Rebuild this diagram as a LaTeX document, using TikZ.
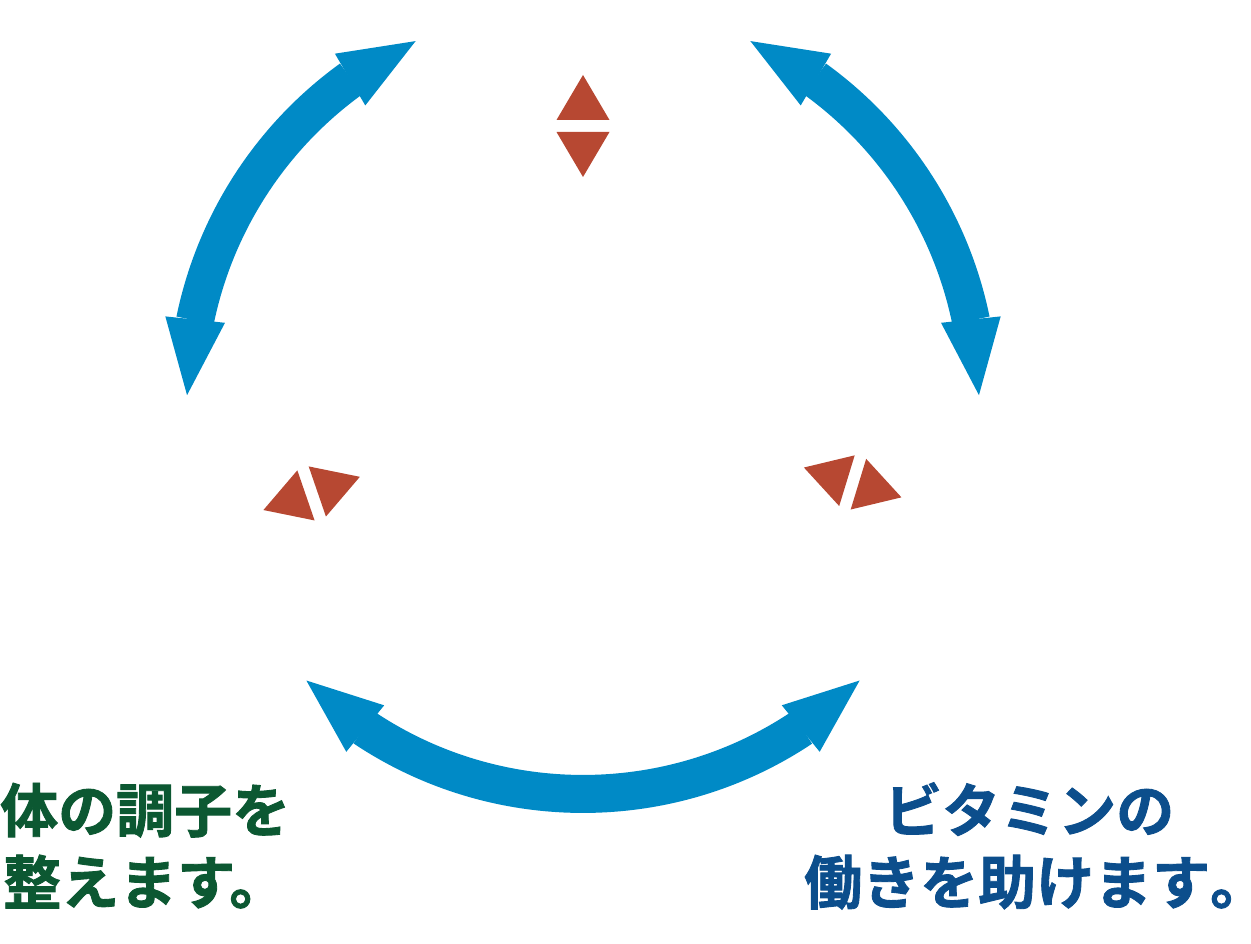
\documentclass[tikz,border=0pt]{standalone}
\usepackage{fontspec}
\newfontfamily\jpfont{Noto Sans CJK JP}[BoldFont={* Bold}, BoldFeatures={FakeBold=1.5}]
\usetikzlibrary{arrows.meta,bending,calc}
\definecolor{arrowblue}{RGB}{0,138,198}
\definecolor{tricol}{RGB}{183,72,50}
\definecolor{txtgreen}{RGB}{12,88,50}
\definecolor{txtblue}{RGB}{12,78,140}
\tikzset{
  bigarrow/.style={draw=arrowblue, line width=38pt,
    {Triangle[width=60pt,length=76pt,line width=0pt,flex]}-{Triangle[width=60pt,length=76pt,line width=0pt,flex]}},
  lbl/.style={font=\jpfont\bfseries\fontsize{58}{60}\selectfont, inner sep=0pt, anchor=base west},
  redtri/.style={fill=tricol}
}
\begin{document}
\begin{tikzpicture}[x=1pt,y=1pt]
\useasboundingbox (0,0) rectangle (1251,944);
\coordinate (C) at (583,544);
% arrows
\coordinate (LA) at ($(C)+(115:396)$);
\coordinate (RA) at ($(C)+(65:396)$);
\coordinate (BA) at ($(C)+(225.4:394)$);
\draw[bigarrow] (LA) arc[start angle=115, end angle=179.3, radius=396];
\draw[bigarrow] (RA) arc[start angle=65, end angle=0.7, radius=396];
\draw[bigarrow] (BA) arc[start angle=225.4, end angle=314.6, radius=394];
% red triangle pairs
\foreach \ang/\d in {90/274, 199/287, -17/282} {
  \begin{scope}[shift={(C)}, rotate=\ang-90]
    \fill[redtri] (-26.5,\d+6) -- (26.5,\d+6) -- (0,\d+51) -- cycle;
    \fill[redtri] (-26.5,\d-6) -- (26.5,\d-6) -- (0,\d-51) -- cycle;
  \end{scope}
}
% texts
\node[lbl, text=txtgreen] (l1) at (0,112) {体の調子を};
\node[lbl, text=txtgreen] (l2) at (3,40) {整えます。};
\node[lbl, text=txtblue] (r1) at (884,112) {ビタミンの};
\node[lbl, text=txtblue] (r2) at (804,40) {働きを助けます\makebox[0.5em][l]{。}};
\end{tikzpicture}
\end{document}
